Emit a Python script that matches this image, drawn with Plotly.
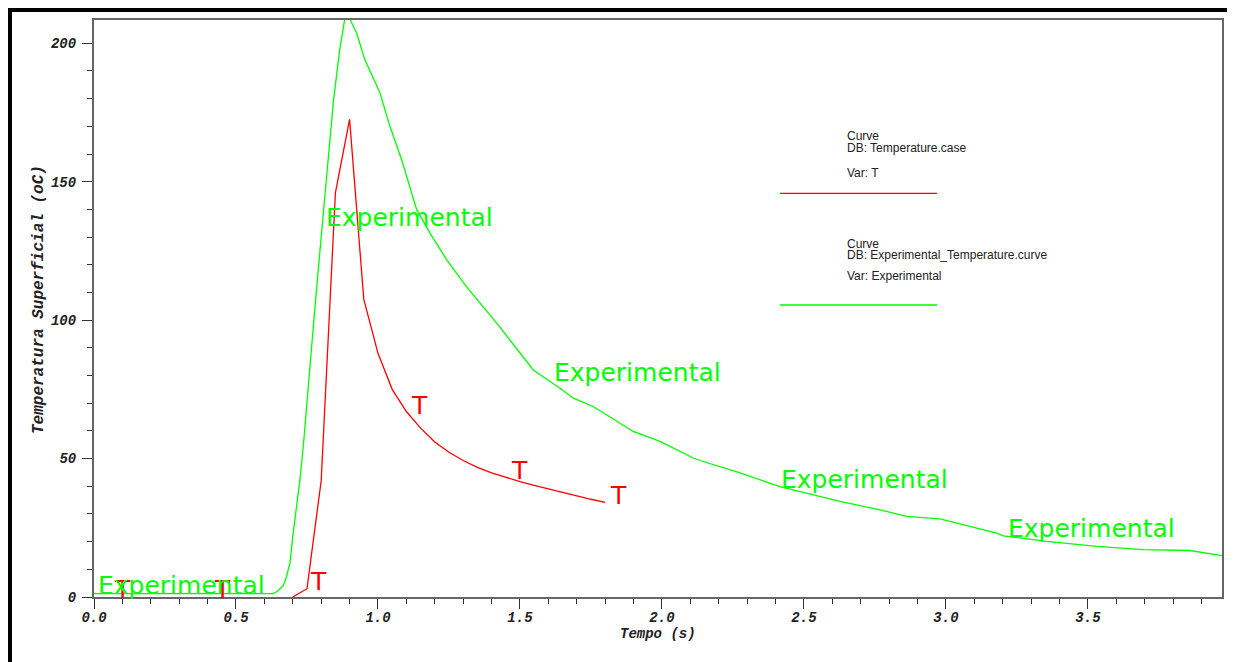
import plotly.graph_objects as go

# ---- data ----
exp_time = [0.0, 0.1, 0.2, 0.3, 0.4, 0.5, 0.6, 0.63, 0.645, 0.655, 0.667, 0.678, 0.69, 0.70,
            0.708, 0.725, 0.737, 0.755, 0.775, 0.796, 0.82, 0.843, 0.865, 0.885, 0.90, 0.925,
            0.954, 1.007, 1.042, 1.083, 1.136, 1.183, 1.242, 1.312, 1.418, 1.547, 1.641, 1.688,
            1.758, 1.899, 1.993, 2.04, 2.11, 2.134, 2.275, 2.415, 2.533, 2.627, 2.768, 2.862,
            2.979, 3.178, 3.202, 3.355, 3.531, 3.695, 3.859, 3.976]
exp_temp = [1.2, 1.2, 1.2, 1.2, 1.2, 1.2, 1.2, 1.2, 2.0, 3.0, 4.2, 7.4, 12.3, 21.9,
            27.9, 42.3, 54.4, 78.0, 101.0, 125.4, 152.0, 179.0, 197.5, 210.0, 209.0, 203.6,
            194.0, 182.0, 170.0, 158.0, 140.0, 131.4, 121.8, 112.0, 98.9, 82.0, 75.4, 71.8,
            68.8, 59.8, 56.2, 53.8, 50.2, 49.3, 44.8, 39.9, 36.9, 34.5, 31.5, 29.1,
            28.2, 23.1, 22.1, 20.1, 18.3, 17.1, 16.8, 14.9]

# visible part of the T curve (before 0.70 s it lies on the axis line)
t_time = [0.70, 0.75, 0.80, 0.85, 0.90, 0.95, 1.0, 1.05, 1.1, 1.15, 1.2, 1.25, 1.3,
          1.35, 1.4, 1.45, 1.5, 1.55, 1.6, 1.65, 1.7, 1.75, 1.8]
t_temp = [0.0, 3.0, 42.0, 146.0, 172.5, 107.5, 88.0, 75.0, 67.0, 61.0, 56.0, 52.3, 49.3,
          46.8, 44.8, 43.2, 41.7, 40.3, 39.0, 37.7, 36.5, 35.3, 34.2]

# curve label anchors (left edge, vertical centre of the glyphs)
t_label_x = [0.067, 0.42, 0.758, 1.113, 1.465, 1.815]
t_label_y = [2.8, 2.8, 5.6, 69.1, 45.7, 36.6]
exp_label_x = [0.011, 0.813, 1.616, 2.415, 3.215]
exp_label_y = [4.1, 137.1, 81.2, 42.5, 24.9]

x_tick_vals = [0.0, 0.5, 1.0, 1.5, 2.0, 2.5, 3.0, 3.5]
x_tick_text = ["0.0", "0.5", "1.0", "1.5", "2.0", "2.5", "3.0", "3.5"]
y_tick_vals = [0, 50, 100, 150, 200]
y_tick_text = ["0", "50", "100", "150", "200"]

legend_entries = [
    ["Curve", "DB: Temperature.case", "Var: T"],
    ["Curve", "DB: Experimental_Temperature.curve", "Var: Experimental"],
]

RED = "#ff0000"
GREEN = "#00ff00"

OFF = 8  # page body margin
W, H = 1235 - OFF, 662 - OFF
L, R, T, B = 94 - OFF, 1222 - OFF, 20 - OFF, 597 - OFF


def px_x(x):
    return (x - OFF - L) / (R - L)


def px_y(y):
    return (B - (y - OFF)) / (B - T)


fig = go.Figure()
fig.add_trace(go.Scatter(x=t_time, y=t_temp, mode="lines",
                         line=dict(color=RED, width=1.3), name="T",
                         showlegend=False, hoverinfo="skip"))
fig.add_trace(go.Scatter(x=exp_time, y=exp_temp, mode="lines",
                         line=dict(color=GREEN, width=1.3), name="Experimental",
                         showlegend=False, hoverinfo="skip"))

tick_font = dict(family="Liberation Mono, Courier New, monospace", size=14,
                 color="#222222", weight="bold", style="italic")
ytitle_font = dict(tick_font, size=16)

annotations = []
for x, y in zip(t_label_x, t_label_y):
    annotations.append(dict(x=x, y=y, xref="x", yref="y", text="T", showarrow=False,
                            xanchor="left", yanchor="middle", borderpad=0,
                            font=dict(family="DejaVu Sans", size=25, color=RED)))
for x, y in zip(exp_label_x, exp_label_y):
    annotations.append(dict(x=x, y=y, xref="x", yref="y", text="Experimental",
                            showarrow=False, xanchor="left", yanchor="middle", borderpad=0,
                            font=dict(family="DejaVu Sans", size=25, color=GREEN)))

# axis titles
annotations.append(dict(x=px_x(658), y=px_y(634), xref="paper", yref="paper",
                        text="Tempo (s)", showarrow=False, xanchor="center", yanchor="middle",
                        font=tick_font))
annotations.append(dict(x=px_x(39), y=px_y(300), xref="paper", yref="paper",
                        text="Temperatura Superficial (oC)", showarrow=False, textangle=-90,
                        xanchor="center", yanchor="middle", font=ytitle_font))

# legend block
leg_text_y = [[135.7, 148.3, 172.7], [244.0, 255.0, 275.7]]
leg_line_y = [193.3, 305.0]
leg_colors = [RED, GREEN]
shapes = []
for entry, ys, ly, col in zip(legend_entries, leg_text_y, leg_line_y, leg_colors):
    for txt, yy in zip(entry, ys):
        annotations.append(dict(x=px_x(846), y=px_y(yy), xref="paper", yref="paper",
                                text=txt, showarrow=False, xanchor="left", yanchor="middle",
                                borderpad=0,
                                font=dict(family="Liberation Sans, Arial", size=12,
                                          color="#222222")))
    shapes.append(dict(type="line", xref="paper", yref="paper",
                       x0=px_x(780), x1=px_x(937), y0=px_y(ly), y1=px_y(ly),
                       line=dict(color=col, width=1.3)))

# black frame bars (top and left)
shapes.append(dict(type="rect", xref="paper", yref="paper",
                   x0=px_x(8), x1=px_x(1235), y0=px_y(12), y1=px_y(8),
                   fillcolor="black", line=dict(width=0), layer="above"))
shapes.append(dict(type="rect", xref="paper", yref="paper",
                   x0=px_x(8), x1=px_x(12), y0=px_y(662), y1=px_y(8),
                   fillcolor="black", line=dict(width=0), layer="above"))

fig.update_layout(
    width=W, height=H,
    margin=dict(l=L, r=W - R, t=T, b=H - B, autoexpand=False),
    paper_bgcolor="white", plot_bgcolor="white",
    showlegend=False,
    annotations=annotations,
    shapes=shapes,
    xaxis=dict(range=[0, 3.972], showgrid=False, zeroline=False,
               tickmode="array", tickvals=x_tick_vals, ticktext=x_tick_text,
               ticks="outside", ticklen=10, tickwidth=1.3, tickcolor="#333333",
               ticklabelstandoff=-4,
               minor=dict(dtick=0.1, ticks="outside", ticklen=5, tickwidth=1.3,
                          tickcolor="#333333", showgrid=False),
               showline=True, linecolor="#666666", linewidth=2, mirror=True,
               tickfont=tick_font, automargin=False),
    yaxis=dict(range=[0, 208.4], showgrid=False, zeroline=False,
               tickmode="array", tickvals=y_tick_vals, ticktext=y_tick_text,
               ticks="outside", ticklen=10, tickwidth=1.3, tickcolor="#333333",
               ticklabelstandoff=3,
               minor=dict(dtick=10, ticks="outside", ticklen=5, tickwidth=1.3,
                          tickcolor="#333333", showgrid=False),
               showline=True, linecolor="#666666", linewidth=2, mirror=True,
               tickfont=tick_font, automargin=False),
)

fig.write_html("out.html")
